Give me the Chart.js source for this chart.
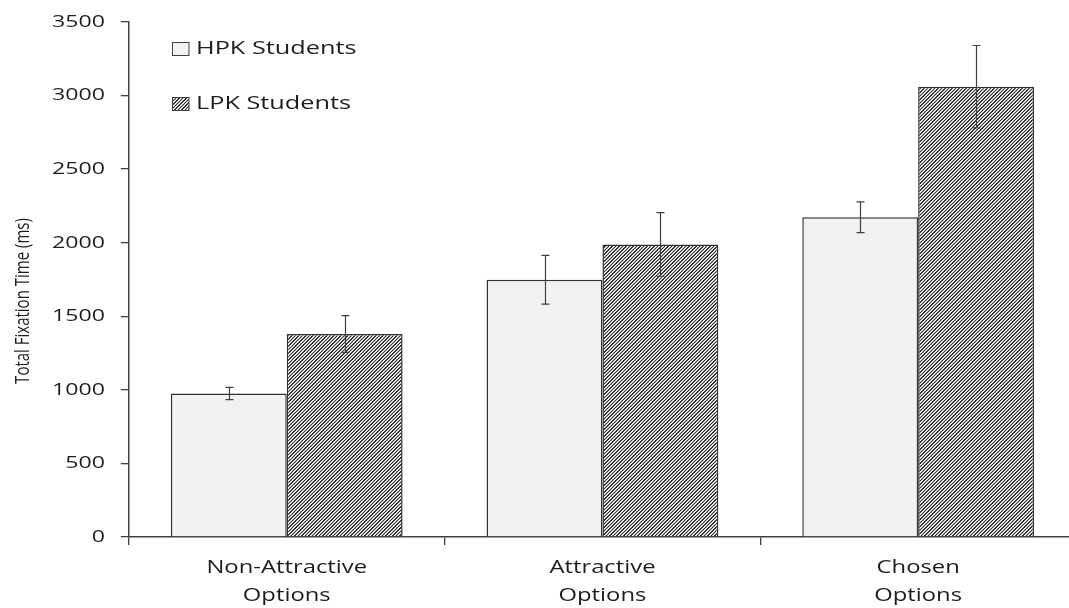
<!DOCTYPE html>
<html>
<head>
<meta charset="utf-8">
<title>Total Fixation Time</title>
<script src="https://cdn.jsdelivr.net/npm/chart.js@4.4.1/dist/chart.umd.min.js"></script>
<style>
  html, body { margin: 0; padding: 0; background: #ffffff; overflow: hidden; }
  #wrap { width: 1076px; height: 608px; }
</style>
</head>
<body>
<div id="wrap"><canvas id="c" width="1076" height="608"></canvas></div>
<script>
// Categories (two-line axis labels)
const categories = [
  ['Non-Attractive', 'Options'],
  ['Attractive', 'Options'],
  ['Chosen', 'Options']
];
// Series labels
const seriesNames = ['HPK Students', 'LPK Students'];
// Mean total fixation time (ms)
const hpkMeans = [975, 1748, 2173];
const lpkMeans = [1380, 1988, 3060];
// Standard errors (ms)
const hpkErrors = [42, 166, 105];
const lpkErrors = [125, 216, 280];
// Y axis tick labels
const yTicks = [0, 500, 1000, 1500, 2000, 2500, 3000, 3500];

const TEXT_STRETCH = 1.36;    // text is drawn horizontally widened
const INK = '#1e1e1e';
const AXIS = '#404040';
const FONT = "'Open Sans', 'Liberation Sans', Arial, sans-serif";

const canvas = document.getElementById('c');
const ctx = canvas.getContext('2d');

// Widen every label horizontally (both for drawing and for layout measurement)
const rawFillText = ctx.fillText.bind(ctx);
const rawMeasure = ctx.measureText.bind(ctx);
ctx.fillText = function (text, x, y) {
  ctx.save();
  ctx.translate(x, y);
  ctx.scale(TEXT_STRETCH, 1);
  rawFillText(text, 0, 0);
  ctx.restore();
};
ctx.measureText = function (text) {
  const m = rawMeasure(text);
  return {
    width: m.width * TEXT_STRETCH,
    actualBoundingBoxAscent: m.actualBoundingBoxAscent,
    actualBoundingBoxDescent: m.actualBoundingBoxDescent,
    actualBoundingBoxLeft: m.actualBoundingBoxLeft * TEXT_STRETCH,
    actualBoundingBoxRight: m.actualBoundingBoxRight * TEXT_STRETCH,
    fontBoundingBoxAscent: m.fontBoundingBoxAscent,
    fontBoundingBoxDescent: m.fontBoundingBoxDescent
  };
};

// Diagonal hatch fill ("/" stripes)
function makeHatch() {
  const n = 7, period = 3.5;
  const tile = document.createElement('canvas');
  tile.width = n; tile.height = n;
  const t = tile.getContext('2d');
  const img = t.createImageData(n, n);
  for (let j = 0; j < n; j++) {
    for (let i = 0; i < n; i++) {
      const f = ((i + j) % period) / period;
      const dark = Math.max(0, Math.min(1, 0.5 + 0.9 * Math.cos(2 * Math.PI * f)));
      const v = Math.round(255 - dark * (255 - 55));
      const k = (j * n + i) * 4;
      img.data[k] = v; img.data[k + 1] = v; img.data[k + 2] = v; img.data[k + 3] = 255;
    }
  }
  t.putImageData(img, 0, 0);
  return ctx.createPattern(tile, 'repeat');
}
const hatch = makeHatch();
const hpkFill = '#f2f2f2';

// Error bars drawn from the same means and errors through the y scale
const errorBars = {
  id: 'errorBars',
  afterDatasetsDraw(chart) {
    const c = chart.ctx, ys = chart.scales.y;
    const errs = [hpkErrors, lpkErrors];
    c.save();
    c.strokeStyle = AXIS;
    c.lineWidth = 1.2;
    chart.data.datasets.forEach((ds, di) => {
      chart.getDatasetMeta(di).data.forEach((bar, k) => {
        const v = ds.data[k], e = errs[di][k];
        const top = ys.getPixelForValue(v + e);
        const bot = ys.getPixelForValue(v - e);
        const x = Math.round(bar.x) + 0.5, cap = 4;
        c.beginPath();
        c.moveTo(x, top); c.lineTo(x, bot);
        c.moveTo(x - cap, top); c.lineTo(x + cap, top);
        c.moveTo(x - cap, bot); c.lineTo(x + cap, bot);
        c.stroke();
      });
    });
    c.restore();
  }
};

// Vertical axis title and the legend inside the plot
const annotations = {
  id: 'annotations',
  afterDraw(chart) {
    const c = chart.ctx;
    c.save();
    c.fillStyle = INK;
    // y axis title, rotated
    c.save();
    c.translate(23, 301);
    c.rotate(-Math.PI / 2);
    c.scale(1, TEXT_STRETCH);
    c.font = '500 15px ' + FONT;
    c.textAlign = 'center';
    c.textBaseline = 'middle';
    rawFillText('Total Fixation Time (ms)', 0, 0);
    c.restore();

    // legend
    const rows = [49, 104];
    chart.data.datasets.forEach((ds, i) => {
      const cy = rows[i];
      c.fillStyle = ds.backgroundColor;
      c.fillRect(172, cy - 6.5, 17, 13);
      c.strokeStyle = AXIS;
      c.lineWidth = 1;
      c.strokeRect(172.5, cy - 6.5, 16.5, 13);
      c.fillStyle = INK;
      c.font = '500 18.6px ' + FONT;
      c.textAlign = 'left';
      c.textBaseline = 'middle';
      c.fillText(ds.label, 196, cy);
    });
    c.restore();
  }
};

new Chart(ctx, {
  type: 'bar',
  data: {
    labels: categories,
    datasets: [
      {
        label: seriesNames[0],
        data: hpkMeans,
        backgroundColor: hpkFill,
        borderColor: '#333333',
        borderWidth: 1.5
      },
      {
        label: seriesNames[1],
        data: lpkMeans,
        backgroundColor: hatch,
        borderColor: '#333333',
        borderWidth: 1.5
      }
    ]
  },
  options: {
    responsive: false,
    animation: false,
    layout: { padding: { left: 36, top: 16, right: 0, bottom: -11 } },
    datasets: { bar: { categoryPercentage: 0.734, barPercentage: 1.0 } },
    plugins: {
      legend: { display: false },
      tooltip: { enabled: false }
    },
    scales: {
      x: {
        offset: true,
        grid: {
          offset: true,
          drawOnChartArea: false,
          drawTicks: true,
          tickLength: 8,
          color: AXIS,
          lineWidth: 1.3
        },
        border: { color: AXIS, width: 1.5 },
        ticks: {
          color: INK,
          padding: 9,
          maxRotation: 0,
          autoSkip: false,
          font: { family: FONT, size: 17.5, weight: '500', lineHeight: 1.6 }
        }
      },
      y: {
        min: 0,
        max: 3500,
        afterBuildTicks(scale) {
          scale.ticks = yTicks.map(v => ({ value: v }));
        },
        grid: {
          drawOnChartArea: false,
          drawTicks: true,
          tickLength: 8,
          color: AXIS,
          lineWidth: 1.3
        },
        border: { color: AXIS, width: 1.5 },
        ticks: {
          color: INK,
          padding: 16,
          font: { family: FONT, size: 17, weight: '500', lineHeight: 0.7 },
          callback: v => String(v)
        }
      }
    }
  },
  plugins: [errorBars, annotations]
});
</script>
</body>
</html>
